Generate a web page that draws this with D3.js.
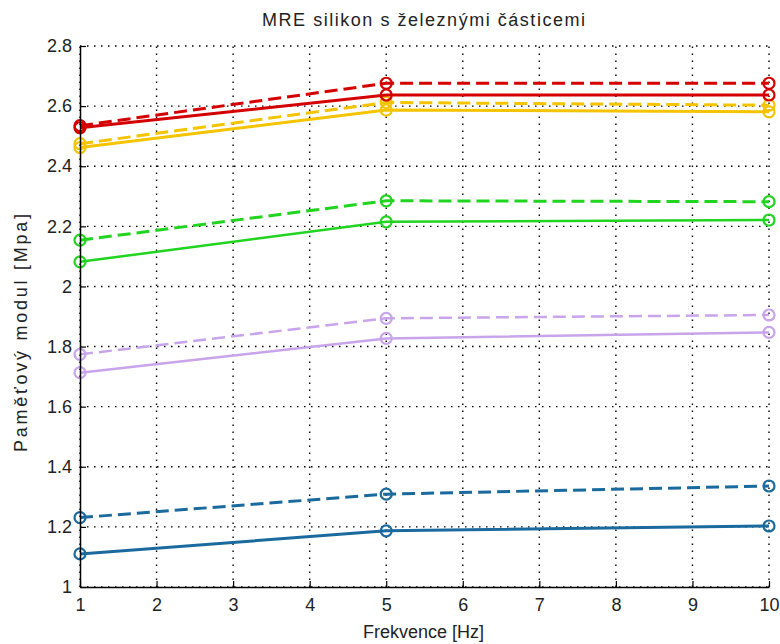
<!DOCTYPE html>
<html><head><meta charset="utf-8">
<script src="https://cdn.jsdelivr.net/npm/d3@7"></script>
<style>body{margin:0;background:#fff}svg{display:block}text{font-family:"Liberation Sans",Arial,sans-serif;fill:#222}</style>
</head><body>
<script>
const freq = [1, 5, 10];
const xTicks = [1,2,3,4,5,6,7,8,9,10];
const yTicks = [1,1.2,1.4,1.6,1.8,2,2.2,2.4,2.6,2.8];
const yTickLabels = ["1","1.2","1.4","1.6","1.8","2","2.2","2.4","2.6","2.8"];
const redDashed = [2.535, 2.676, 2.676];
const redSolid = [2.528, 2.637, 2.637];
const yellowDashed = [2.475, 2.612, 2.603];
const yellowSolid = [2.462, 2.587, 2.581];
const greenDashed = [2.154, 2.285, 2.282];
const greenSolid = [2.082, 2.215, 2.221];
const purpleDashed = [1.774, 1.894, 1.905];
const purpleSolid = [1.713, 1.827, 1.847];
const blueDashed = [1.231, 1.309, 1.336];
const blueSolid = [1.110, 1.187, 1.203];
const seriesList = [
  {v: blueSolid, c: "#1a6a9e", d: false, w: 3},
  {v: blueDashed, c: "#1a6a9e", d: true, w: 3},
  {v: purpleSolid, c: "#c8a4ea", d: false, w: 2.5},
  {v: purpleDashed, c: "#c8a4ea", d: true, w: 2.5},
  {v: greenSolid, c: "#20d420", d: false, w: 2.5},
  {v: greenDashed, c: "#20d420", d: true, w: 3},
  {v: yellowSolid, c: "#f4c400", d: false, w: 3},
  {v: yellowDashed, c: "#f4c400", d: true, w: 3},
  {v: redSolid, c: "#d40000", d: false, w: 3},
  {v: redDashed, c: "#d40000", d: true, w: 3}
];
const W = 780, H = 644;
const m = {l: 80, r: 11, t: 46, b: 57};
const svg = d3.select("body").append("svg").attr("width", W).attr("height", H);
const x = d3.scaleLinear().domain([1, 10]).range([m.l, W - m.r]);
const y = d3.scaleLinear().domain([1, 2.8]).range([H - m.b, m.t]);
// grid
const g = svg.append("g");
g.selectAll(".gx").data(xTicks).join("line")
  .attr("x1", d => x(d)).attr("x2", d => x(d)).attr("y1", y(1)).attr("y2", y(2.8))
  .attr("stroke", "#000").attr("stroke-width", 1.4).attr("stroke-dasharray", "1.5,5.5");
g.selectAll(".gy").data(yTicks).join("line")
  .attr("x1", x(1)).attr("x2", x(10)).attr("y1", d => y(d)).attr("y2", d => y(d))
  .attr("stroke", "#000").attr("stroke-width", 1.4).attr("stroke-dasharray", "1.5,5.5");
// series
const line = d3.line().x((d, i) => x(freq[i])).y(d => y(d));
seriesList.forEach(s => {
  svg.append("path").attr("d", line(s.v)).attr("fill", "none")
    .attr("stroke", s.c).attr("stroke-width", s.w)
    .attr("stroke-dasharray", s.d ? "13,6" : null);
  svg.selectAll(null).data(s.v).join("circle")
    .attr("cx", (d, i) => x(freq[i])).attr("cy", d => y(d)).attr("r", 5.5)
    .attr("fill", "none").attr("stroke", s.c).attr("stroke-width", 2.2);
});
// axes
const xAxis = d3.axisBottom(x).tickValues(xTicks).tickSizeInner(-6).tickSizeOuter(0).tickPadding(11).tickFormat(d3.format("d"));
const yAxis = d3.axisLeft(y).tickValues(yTicks).tickSizeInner(-6).tickSizeOuter(0).tickPadding(8).tickFormat((d, i) => yTickLabels[i]);
const gx = svg.append("g").attr("transform", `translate(0,${y(1)})`).call(xAxis);
const gy = svg.append("g").attr("transform", `translate(${x(1)},0)`).call(yAxis);
[gx, gy].forEach(a => {
  a.attr("font-size", 18);
  a.select(".domain").attr("stroke", "#000").attr("stroke-width", 1.5);
  a.selectAll(".tick line").attr("stroke", "#000").attr("stroke-width", 1.2);
  a.selectAll(".tick text").attr("font-size", 18).attr("fill", "#222")
    .style("font-family", '"Liberation Sans",Arial,sans-serif');
});
svg.append("text").attr("x", 423.5).attr("y", 26).attr("text-anchor", "middle")
  .attr("font-size", 18).attr("textLength", 323).attr("lengthAdjust", "spacing")
  .text("MRE silikon s železnými částicemi");
svg.append("text").attr("x", 423.5).attr("y", 638).attr("text-anchor", "middle")
  .attr("font-size", 18).attr("textLength", 121).attr("lengthAdjust", "spacing")
  .text("Frekvence [Hz]");
svg.append("text").attr("transform", `translate(27,333) rotate(-90)`)
  .attr("text-anchor", "middle").attr("font-size", 18)
  .attr("textLength", 238).attr("lengthAdjust", "spacing")
  .text("Paměťový modul [Mpa]");
</script>
</body></html>
